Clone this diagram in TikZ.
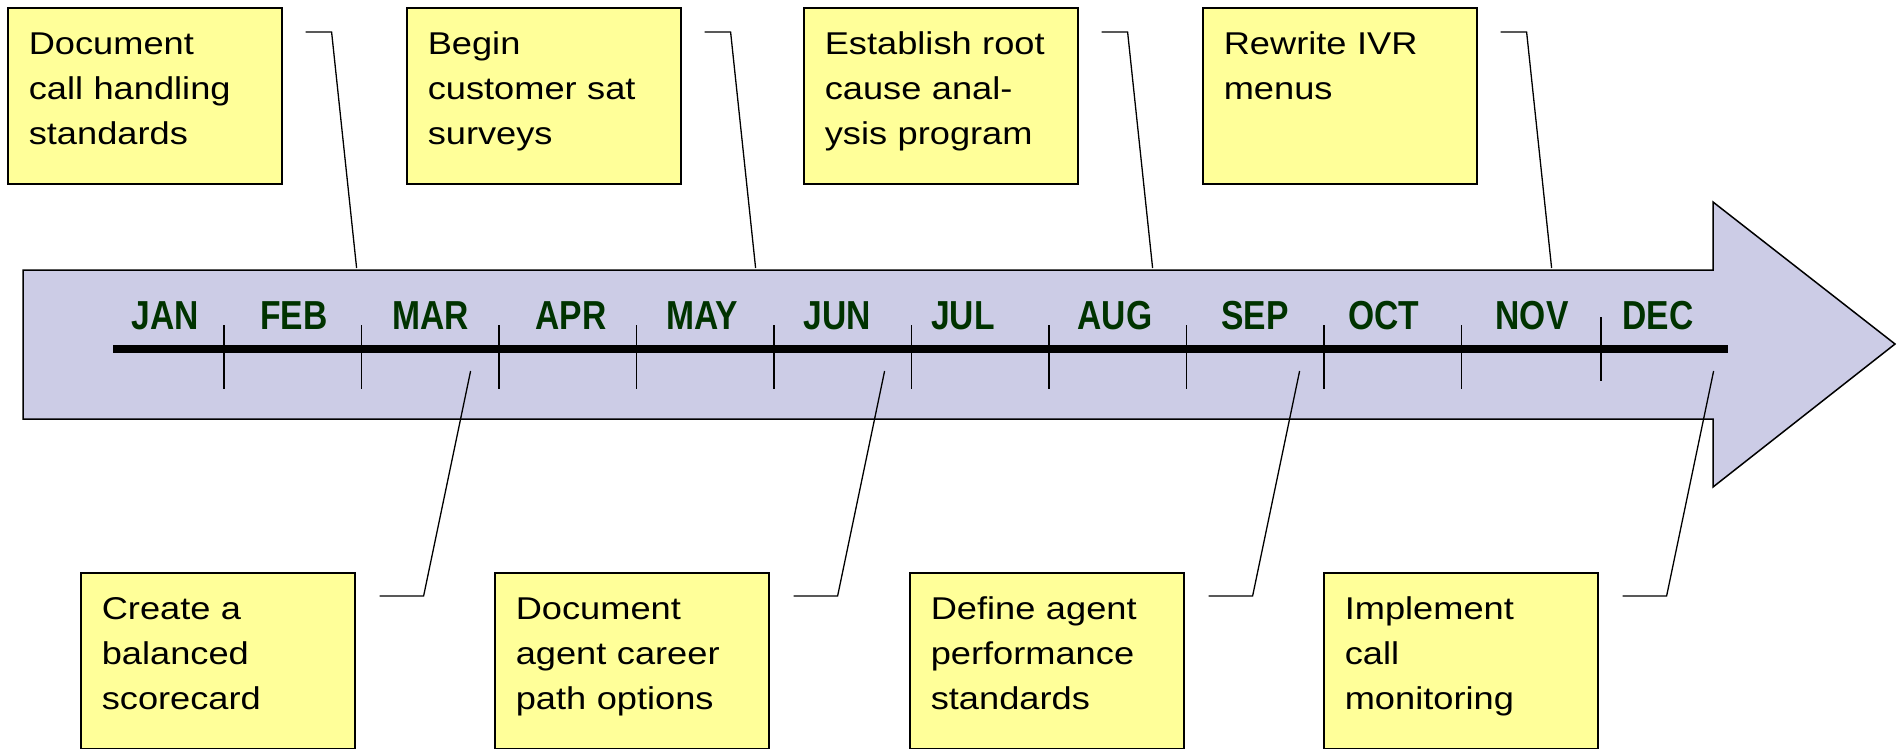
\documentclass[tikz,border=0pt]{standalone}
\usepackage{fontspec}
\setmainfont{Liberation Sans}
\newfontfamily\notefont[FakeStretch=1.15]{Liberation Sans}
\newfontfamily\monthfont[FakeStretch=0.83]{Liberation Sans}
\usetikzlibrary{calc}
\definecolor{notefill}{RGB}{255,255,153}
\definecolor{arrowfill}{RGB}{204,204,230}
\definecolor{monthgreen}{RGB}{0,51,0}
\begin{document}
\begin{tikzpicture}[x=1pt,y=-1pt,
  note/.style={draw=black, fill=notefill, line width=1.6pt, anchor=north west,
    inner xsep=21pt, inner ysep=0pt, text width=232pt, align=left,
    text height=47pt, text depth=129pt,
    font=\notefont\fontsize{31.5}{45}\selectfont},
  month/.style={anchor=base, inner sep=0pt, text=monthgreen,
    font=\monthfont\bfseries\fontsize{40.5}{40.5}\selectfont},
  leader/.style={draw=black, line width=1.3pt},
  tickmark/.style={draw=black, line width=1.8pt},
  bigarrow/.style={draw=black, fill=arrowfill, line width=1.5pt, line join=miter}]
\useasboundingbox (0,0) rectangle (1900,748);

% block arrow
\path[bigarrow] (23,270) -- (1713,270) -- (1713,202) -- (1895,344)
  -- (1713,487) -- (1713,419) -- (23,419) -- cycle;

% timeline bar and month ticks
\draw[line width=8pt] (113,349) -- (1728,349);
\foreach \k in {0,...,9}
  \draw[tickmark] ({224+137.5*\k},325) -- ++(0,64);
\draw[tickmark] (1601,317) -- ++(0,64);

% month labels
\foreach \x/\m [count=\i] in {165/JAN,294/FEB,431/MAR,571/APR,702/MAY,837/JUN,
    963/JUL,1115/AUG,1255/SEP,1384/OCT,1532/NOV,1658/DEC}
  \node[month] (m\i) at (\x,329) {\m};

% milestone notes above the arrow
\node[note] (n1) at (7,7)    {Document\\call handling\\standards};
\node[note] (n2) at (406,7)  {Begin\\customer sat\\surveys};
\node[note] (n3) at (803,7)  {Establish root\\cause anal-\\ysis program};
\node[note] (n4) at (1202,7) {Rewrite IVR\\menus};

% milestone notes below the arrow
\node[note] (n5) at (80,572)   {Create a\\balanced\\scorecard};
\node[note] (n6) at (494,572)  {Document\\agent career\\path options};
\node[note] (n7) at (909,572)  {Define agent\\performance\\standards};
\node[note] (n8) at (1323,572) {Implement\\call\\monitoring};

% leader lines from the upper notes down to the arrow
\foreach \i in {1,...,4} {
  \coordinate (ua\i) at ($(n\i.north east)+(23,25)$);
  \coordinate (ub\i) at ($(n\i.north east)+(49,25)$);
  \coordinate (uc\i) at ($(n\i.north east)+(74,261)$);
  \draw[leader] (ua\i) -- (ub\i) -- (uc\i);
}

% leader lines from the lower notes up into the arrow
\foreach \i in {5,...,8} {
  \coordinate (la\i) at ($(n\i.north east)+(24,24)$);
  \coordinate (lb\i) at ($(n\i.north east)+(68,24)$);
  \coordinate (lc\i) at ($(n\i.north east)+(115,-201)$);
  \draw[leader] (la\i) -- (lb\i) -- (lc\i);
}
\end{tikzpicture}
\end{document}
